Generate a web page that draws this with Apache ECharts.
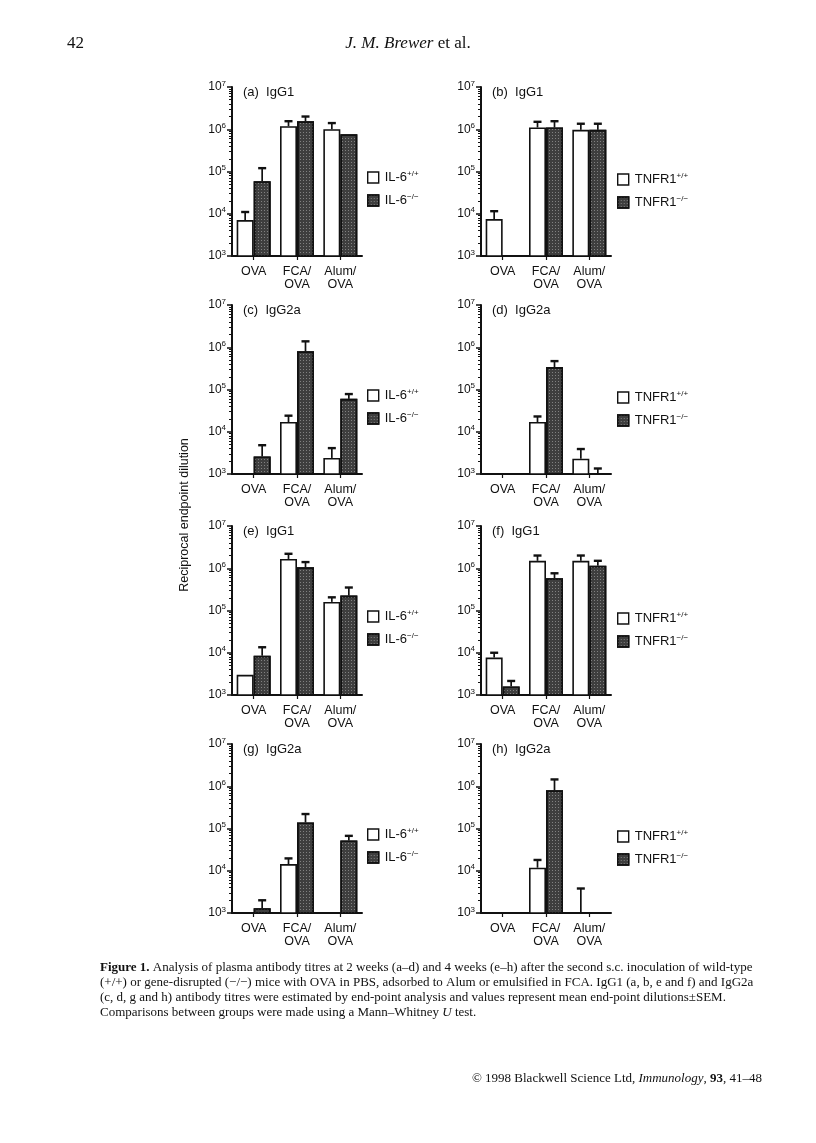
<!DOCTYPE html>
<html><head><meta charset="utf-8">
<script src="https://cdn.jsdelivr.net/npm/echarts@6/dist/echarts.min.js"></script>
<style>html,body{margin:0;padding:0;background:#fff}#c{width:816px;height:1143px}</style>
</head><body><div id="c"></div>
<script>
// ---- data ----
const categories = ['OVA', 'FCA/\nOVA', 'Alum/\nOVA'];
const panelLabels = ['(a)  IgG1', '(b)  IgG1', '(c)  IgG2a', '(d)  IgG2a', '(e)  IgG1', '(f)  IgG1', '(g)  IgG2a', '(h)  IgG2a'];
const panelGroup = ['IL6', 'TNFR1', 'IL6', 'TNFR1', 'IL6', 'TNFR1', 'IL6', 'TNFR1'];

// wild type (+/+) means and error tops, knock-out (-/-) means and error tops
const aWT = [7100, 1180000, 1000000], aWTErr = [11000, 1550000, 1400000];
const aKO = [59000, 1550000, 760000], aKOErr = [120000, 2000000, null];
const bWT = [7500, 1100000, 970000], bWTErr = [11500, 1500000, 1350000];
const bKO = [null, 1100000, 970000], bKOErr = [null, 1550000, 1350000];
const cWT = [null, 17000, 2400], cWTErr = [null, 24000, 4100];
const cKO = [2600, 800000, 60000], cKOErr = [4800, 1380000, 78000];
const dWT = [null, 17000, 2300], dWTErr = [null, 23000, 3900];
const dKO = [null, 340000, null], dKOErr = [null, 470000, 1350];
const eWT = [3000, 1660000, 160000], eWTErr = [null, 2200000, 205000];
const eKO = [8500, 1050000, 225000], eKOErr = [13500, 1400000, 350000];
const fWT = [7700, 1500000, 1500000], fWTErr = [10000, 2000000, 2000000];
const fKO = [1600, 580000, 1150000], fKOErr = [2150, 760000, 1500000];
const gWT = [null, 14400, null], gWTErr = [null, 19600, null];
const gKO = [1300, 139000, 52000], gKOErr = [2000, 220000, 67000];
const hWT = [null, 11800, null], hWTErr = [null, 18000, 3800];
const hKO = [null, 800000, null], hKOErr = [null, 1450000, null];

const panels = [
  [aWT, aWTErr, aKO, aKOErr], [bWT, bWTErr, bKO, bKOErr],
  [cWT, cWTErr, cKO, cKOErr], [dWT, dWTErr, dKO, dKOErr],
  [eWT, eWTErr, eKO, eKOErr], [fWT, fWTErr, fKO, fKOErr],
  [gWT, gWTErr, gKO, gKOErr], [hWT, hWTErr, hKO, hKOErr]
];
const seriesNames = {IL6: ['IL-6+/+', 'IL-6-/-'], TNFR1: ['TNFR1+/+', 'TNFR1-/-']};

// ---- layout / style ----
const SANS = '"Liberation Sans", Arial, sans-serif';
const SERIF = '"Liberation Serif", "Times New Roman", serif';
const colLeft = [232, 481];
const rowTop = [87, 305, 526, 744];
const gridW = 130, gridH = 169;
const BAR_W = 17;
const DARK = '#3e3e3e';
const DARK_DECAL = {symbol: 'rect', symbolSize: 1, dashArrayX: [1, 2], dashArrayY: [1, 2], color: 'rgba(255,255,255,0.35)'};
const YMIN = 1000;

const chart = echarts.init(document.getElementById('c'), null, {renderer: 'canvas'});

const grids = [], xAxes = [], yAxes = [], series = [], titles = [], legends = [];
const supRich = {s: {fontSize: 8, fontFamily: SANS, color: '#111', padding: [0, 0, 7, 0]}};

panels.forEach((p, i) => {
  const col = i % 2, row = Math.floor(i / 2);
  const left = colLeft[col], top = rowTop[row];
  grids.push({left: left, top: top, width: gridW, height: gridH});
  xAxes.push({
    type: 'category', gridIndex: i, data: categories,
    axisLine: {lineStyle: {color: '#111', width: 2}},
    axisTick: {show: true, alignWithLabel: true, length: 4, lineStyle: {color: '#111', width: 1.2}},
    axisLabel: {interval: 0, fontSize: 12.5, lineHeight: 13, margin: 9, color: '#111', fontFamily: SANS}
  });
  yAxes.push({
    type: 'log', logBase: 10, gridIndex: i, min: YMIN, max: 1e7, splitNumber: 4,
    axisLine: {show: true, lineStyle: {color: '#111', width: 2}},
    axisTick: {show: true, length: 5, lineStyle: {color: '#111', width: 1.5}},
    minorTick: {show: true, splitNumber: 9, length: 3, lineStyle: {color: '#111', width: 1}},
    splitLine: {show: false},
    axisLabel: {
      margin: 6, color: '#111', fontSize: 12, fontFamily: SANS,
      formatter: v => '10{s|' + Math.round(Math.log10(v)) + '}',
      rich: supRich
    }
  });
  const names = seriesNames[panelGroup[i]];
  const [wt, wtErr, ko, koErr] = p;
  series.push({
    type: 'bar', name: names[0], xAxisIndex: i, yAxisIndex: i,
    data: wt, barWidth: BAR_W, barGap: '0%',
    itemStyle: {color: '#ffffff', borderColor: '#111', borderWidth: 1.6},
    silent: true, animation: false
  });
  series.push({
    type: 'bar', name: names[1], xAxisIndex: i, yAxisIndex: i,
    data: ko, barWidth: BAR_W, barGap: '0%',
    itemStyle: {color: DARK, borderColor: '#111', borderWidth: 1.6, decal: DARK_DECAL},
    silent: true, animation: false
  });
  // error bars (T shape) drawn through the axes' scales
  const errData = [];
  [[wt, wtErr, -1], [ko, koErr, 1]].forEach(([vals, errs, side]) => {
    errs.forEach((e, k) => {
      if (e != null) errData.push([k, vals[k] != null ? vals[k] : YMIN, e, side]);
    });
  });
  series.push({
    type: 'custom', xAxisIndex: i, yAxisIndex: i, data: errData, silent: true, animation: false,
    renderItem: (params, api) => {
      const base = api.coord([api.value(0), api.value(1)]);
      const topP = api.coord([api.value(0), api.value(2)]);
      const x = base[0] + api.value(3) * BAR_W / 2;
      const capHalf = 4;
      return {
        type: 'group', children: [
          {type: 'line', shape: {x1: x, y1: base[1], x2: x, y2: topP[1]}, style: {stroke: '#111', lineWidth: 1.7}},
          {type: 'line', shape: {x1: x - capHalf, y1: topP[1], x2: x + capHalf, y2: topP[1]}, style: {stroke: '#111', lineWidth: 2.4}}
        ]
      };
    }
  });
  titles.push({
    text: panelLabels[i], left: left + 11, top: top - 1, padding: 0,
    textStyle: {fontSize: 13, fontWeight: 'normal', color: '#111', fontFamily: SANS}
  });
  legends.push({
    data: names.map(n => ({name: n, itemStyle: n.indexOf('+/+') >= 0
      ? {color: '#fff', borderColor: '#111', borderWidth: 1.4}
      : {color: DARK, borderColor: '#111', borderWidth: 1.4, decal: DARK_DECAL}})),
    orient: 'vertical', left: left + gridW + (col === 0 ? 5 : 6), top: top + (col === 0 ? 83 : 85),
    itemWidth: 11, itemHeight: 11, itemGap: 9, padding: 0, selectedMode: false,
    icon: 'rect',
    formatter: n => {
      const m = n.match(/^(.*?)([+-]\/[+-])$/);
      return m[1] + '{s|' + m[2].replace(/-/g, '\u2212') + '}';
    },
    textStyle: {fontSize: 13, color: '#111', fontFamily: SANS, padding: [0, 0, 0, 1], rich: supRich}
  });
});

const graphics = [
  {type: 'text', left: 67, top: 35, style: {text: '42', font: '17px ' + SERIF, fill: '#111'}},
  {type: 'text', x: 408, y: 44, style: {
    text: '{i|J. M. Brewer} et al.', font: '17px ' + SERIF, fill: '#111', align: 'center', verticalAlign: 'middle',
    rich: {i: {fontStyle: 'italic', fontSize: 17, fontFamily: SERIF}}}},
  {type: 'text', x: 185, y: 515, rotation: Math.PI / 2, style: {
    text: 'Reciprocal endpoint dilution', font: '12.5px ' + SANS, fill: '#111', align: 'center', verticalAlign: 'middle'}}
];
const captionLines = [
  '{b|Figure 1.} Analysis of plasma antibody titres at 2 weeks (a\u2013d) and 4 weeks (e\u2013h) after the second s.c. inoculation of wild-type',
  '(+/+) or gene-disrupted (\u2212/\u2212) mice with OVA in PBS, adsorbed to Alum or emulsified in FCA. IgG1 (a, b, e and f) and IgG2a',
  '(c, d, g and h) antibody titres were estimated by end-point analysis and values represent mean end-point dilutions\u00b1SEM.',
  'Comparisons between groups were made using a Mann\u2013Whitney {i|U} test.'
];
captionLines.forEach((t, k) => {
  graphics.push({type: 'text', x: 100, y: 968 + k * 15, style: {
    text: t, font: '13px ' + SERIF, fill: '#111', verticalAlign: 'middle',
    rich: {b: {fontWeight: 'bold', fontSize: 13, fontFamily: SERIF}, i: {fontStyle: 'italic', fontSize: 13, fontFamily: SERIF}}}});
});
graphics.push({type: 'text', x: 762, y: 1079, style: {
  text: '\u00a9 1998 Blackwell Science Ltd, {i|Immunology}, {b|93}, 41\u201348', font: '13px ' + SERIF, fill: '#111',
  align: 'right', verticalAlign: 'middle',
  rich: {b: {fontWeight: 'bold', fontSize: 13, fontFamily: SERIF}, i: {fontStyle: 'italic', fontSize: 13, fontFamily: SERIF}}}});

chart.setOption({
  animation: false,
  backgroundColor: '#fff',
  title: titles,
  legend: legends,
  grid: grids,
  xAxis: xAxes,
  yAxis: yAxes,
  series: series,
  graphic: graphics
});
</script></body></html>
